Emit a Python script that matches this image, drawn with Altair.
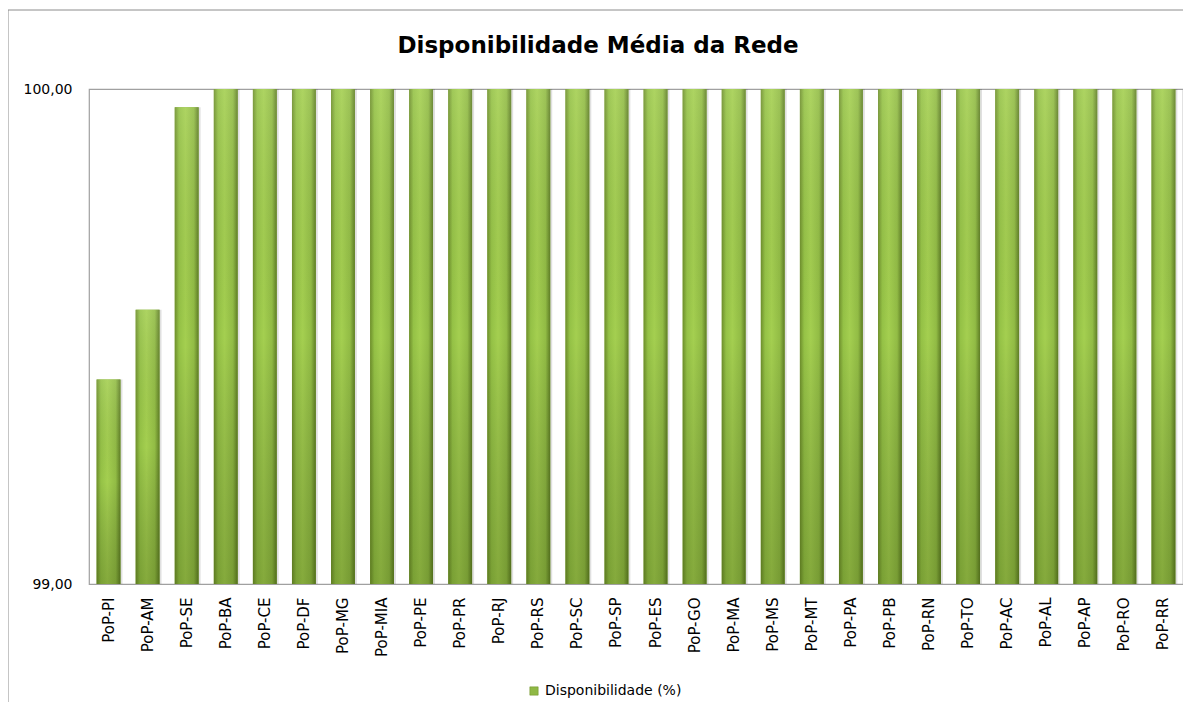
import altair as alt
import pandas as pd

categories = ["PoP-PI", "PoP-AM", "PoP-SE", "PoP-BA", "PoP-CE", "PoP-DF", "PoP-MG",
              "PoP-MIA", "PoP-PE", "PoP-PR", "PoP-RJ", "PoP-RS", "PoP-SC", "PoP-SP",
              "PoP-ES", "PoP-GO", "PoP-MA", "PoP-MS", "PoP-MT", "PoP-PA", "PoP-PB",
              "PoP-RN", "PoP-TO", "PoP-AC", "PoP-AL", "PoP-AP", "PoP-RO", "PoP-RR"]
values = [99.413, 99.554, 99.963, 100.0, 100.0, 100.0, 100.0,
          100.0, 100.0, 100.0, 100.0, 100.0, 100.0, 100.0,
          100.0, 100.0, 100.0, 100.0, 100.0, 100.0, 100.0,
          100.0, 100.0, 100.0, 100.0, 100.0, 100.0, 100.0]
series_name = "Disponibilidade (%)"
title_text = ["Disponibilidade Média da Rede"]
y_ticks = [99, 100]

df = pd.DataFrame({"cat": categories, "val": values, "serie": [series_name] * len(categories)})

FONT = "DejaVu Sans"
W, H = 1094, 495

xenc = alt.X("cat:N", sort=categories,
             scale=alt.Scale(paddingInner=0.39, paddingOuter=0.195),
             axis=alt.Axis(title=None, labelAngle=-90, labelFontSize=15, labelFont=FONT,
                           labelColor="#000000", labelPadding=13, ticks=False, domain=False))
yenc = alt.Y("val:Q", scale=alt.Scale(domain=[99, 100], zero=False, nice=False),
             axis=alt.Axis(title=None, values=y_ticks, grid=False, ticks=False, domain=False,
                           labelFontSize=14, labelFont=FONT, labelColor="#000000",
                           labelPadding=17,
                           labelExpr="replace(format(datum.value, '.2f'), '.', ',')"))

base = alt.Chart(df)

legend_bar = base.mark_bar().encode(
    x=xenc, y=yenc, y2=alt.datum(99),
    color=alt.Color("serie:N", scale=alt.Scale(range=["#8FB845"]),
                    legend=alt.Legend(title=None, orient="none", legendX=438, legendY=595,
                                      symbolType="square", symbolSize=70,
                                      labelFontSize=14, labelFont=FONT, labelColor="#000000",
                                      symbolStrokeColor="#6B8E23", symbolStrokeWidth=0.5)),
)

shadow = base.mark_bar(color="#000000", opacity=0.12, xOffset=2).encode(
    x=xenc, y=yenc, y2=alt.datum(99))

hgrad = base.mark_bar(color=alt.Gradient(
    gradient="linear", x1=0, x2=1, y1=0, y2=0,
    stops=[alt.GradientStop(offset=0, color="#6E8F2C"),
           alt.GradientStop(offset=0.18, color="#95C246"),
           alt.GradientStop(offset=0.45, color="#A4CF50"),
           alt.GradientStop(offset=0.8, color="#92BC45"),
           alt.GradientStop(offset=1, color="#5F7E25")])).encode(
    x=xenc, y=yenc, y2=alt.datum(99))

vgrad = base.mark_bar(color=alt.Gradient(
    gradient="linear", x1=0, x2=0, y1=0, y2=1,
    stops=[alt.GradientStop(offset=0, color="rgba(255,255,255,0.10)"),
           alt.GradientStop(offset=0.5, color="rgba(0,0,0,0.0)"),
           alt.GradientStop(offset=1, color="rgba(40,60,0,0.25)")])).encode(
    x=xenc, y=yenc, y2=alt.datum(99))

one = pd.DataFrame({"t": title_text})

frame = alt.Chart(one).mark_rect(
    fill=None, stroke="#8C8C8C", strokeWidth=1).encode(
    x=alt.value(-81), x2=alt.value(1200), y=alt.value(-79), y2=alt.value(800))

title = alt.Chart(one).mark_text(
    font=FONT, fontSize=23, fontWeight="bold", color="#000000",
    align="center", baseline="alphabetic").encode(
    text="t:N", x=alt.value(509), y=alt.value(-36))

chart = alt.layer(frame, title, shadow, legend_bar, hgrad, vgrad).properties(
    width=W, height=H,
    autosize=alt.AutoSizeParams(type="none"),
    padding={"left": 81, "top": 81, "right": 0, "bottom": 118},
).configure_view(stroke="#A0A0A0", strokeWidth=1.2)

chart.save("out.html", embed_options={"renderer": "svg", "actions": False})
